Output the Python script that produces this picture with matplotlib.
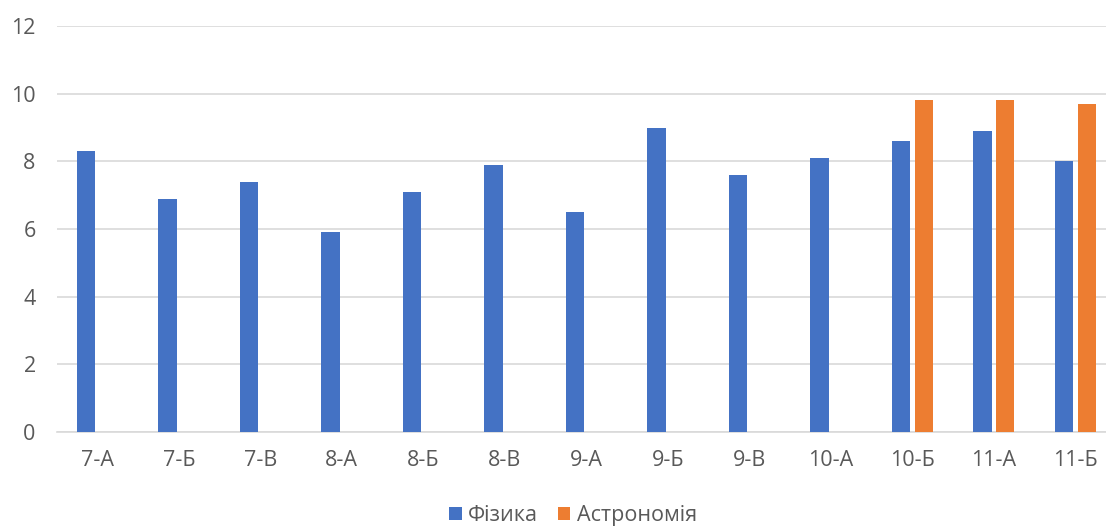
import numpy as np
import matplotlib.pyplot as plt

plt.rcParams['font.family'] = ['Open Sans', 'DejaVu Sans']

classes = ['7-А', '7-Б', '7-В', '8-А', '8-Б', '8-В', '9-А', '9-Б', '9-В', '10-А', '10-Б', '11-А', '11-Б']
physics = [8.3, 6.9, 7.4, 5.9, 7.1, 7.9, 6.5, 9.0, 7.6, 8.1, 8.6, 8.9, 8.0]
astronomy = [0, 0, 0, 0, 0, 0, 0, 0, 0, 0, 9.8, 9.8, 9.7]

fig = plt.figure(figsize=(11.06, 5.27), dpi=100)
# the plot area runs a little past the right edge, as in the original
ax = fig.add_axes([0.0511, 0.180, 0.958, 0.7707])

x = np.arange(len(classes))
w = 0.225
ax.bar(x - 0.14, physics, w, color='#4472C4', label='Фізика', zorder=3)
ax.bar(x + 0.14, astronomy, w, color='#ED7D31', label='Астрономія', zorder=3)

ax.set_xlim(-0.5, len(classes) - 0.5)
ax.set_ylim(0, 12)
ax.set_yticks(range(0, 13, 2))
ax.set_xticks(x)
ax.set_xticklabels(classes)
ax.grid(axis='y', color='#d9d9d9', linewidth=1.2, zorder=0)
for s in ['top', 'right', 'left']:
    ax.spines[s].set_visible(False)
ax.spines['bottom'].set_color('#d9d9d9')
ax.spines['bottom'].set_linewidth(1.2)
ax.tick_params(length=0, labelsize=15.5, labelcolor='#595959')
ax.tick_params(axis='x', pad=13)
ax.tick_params(axis='y', pad=15)

fig.legend(loc='lower center', bbox_to_anchor=(0.518, -0.035), ncol=2, frameon=False,
           fontsize=15.5, labelcolor='#595959', handlelength=0.6, handleheight=0.6,
           handletextpad=0.3, columnspacing=0.9)

plt.savefig('out.png')
